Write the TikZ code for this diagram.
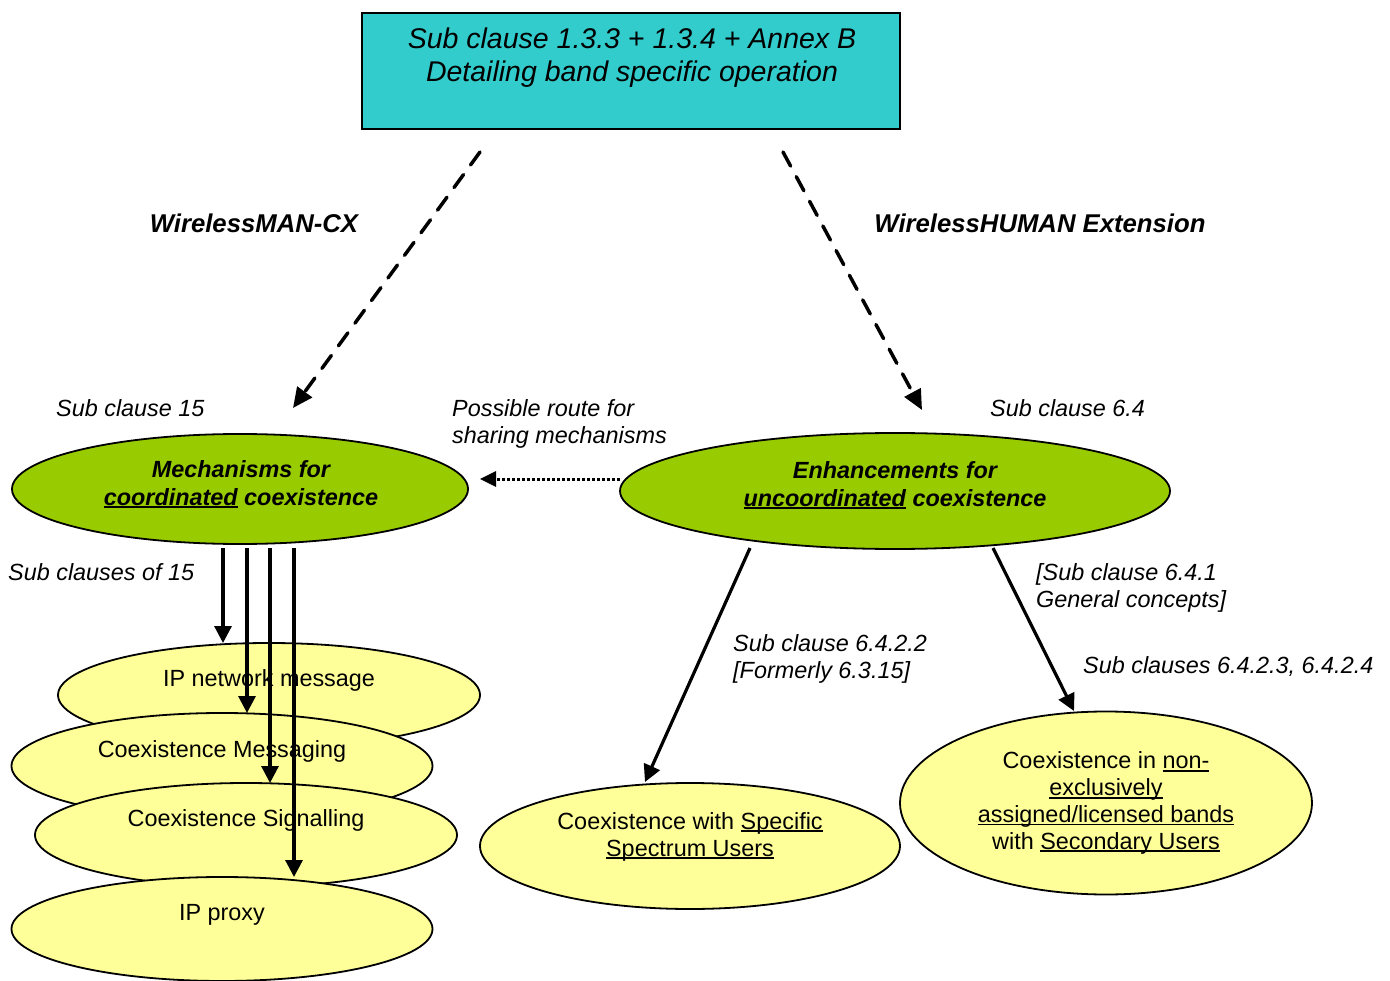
\documentclass[tikz,border=0pt]{standalone}
\usepackage{fontspec}
\setmainfont{Liberation Sans}
\usetikzlibrary{shapes.geometric,arrows.meta}
\definecolor{boxcyan}{HTML}{33CCCC}
\definecolor{leaf}{HTML}{99CC00}
\definecolor{pale}{HTML}{FFFF99}
\newcommand\myul[1]{\setbox0\hbox{#1}\rlap{\rule[-0.13em]{\wd0}{0.075em}}\box0\relax}
\newcommand\fmain{\fontsize{23.4}{27}\selectfont}
\newcommand\ftop{\fontsize{28.5}{33}\selectfont}
\newcommand\fbig{\fontsize{25.7}{30}\selectfont}
\tikzset{
  lbl/.style={font=\fmain\itshape, align=left, inner sep=0, anchor=base west},
  bigl/.style={font=\fbig\bfseries\itshape, inner sep=0, anchor=base},
  etext/.style={font=\fmain, align=center, inner sep=0, anchor=base},
  gtext/.style={font=\fontsize{23.4}{28}\selectfont\bfseries\itshape, align=center, inner sep=0, anchor=base},
  topbox/.style={draw, line width=1.8pt, fill=boxcyan, minimum width=538pt, minimum height=116pt, inner sep=0},
  green/.style={ellipse, draw, line width=1.8pt, fill=leaf, inner sep=0},
  yel/.style={ellipse, draw, line width=1.8pt, fill=pale, inner sep=0},
  solidarr/.style={line width=3.2pt, -{Triangle[length=17pt,width=17pt]}},
  dasharr/.style={line width=3.5pt, line cap=round, dash pattern=on 16pt off 12pt, -{Triangle[length=20pt,width=18pt]}},
  dotarr/.style={line width=3pt, dash pattern=on 3pt off 2pt, -{Triangle[length=16pt,width=15pt]}}
}
\begin{document}
\begin{tikzpicture}[x=1pt,y=-1pt]
\useasboundingbox (0,0) rectangle (1390,981);
% top box
\node[topbox] (top) at (631,71) {};
\node[font=\ftop\itshape, align=center, inner sep=0, anchor=base] (toptext) at (632,82)
  {Sub clause 1.3.3 + 1.3.4 + Annex B\\Detailing band specific operation};

% labels
\node[bigl] (wman) at (254,233) {WirelessMAN-CX};
\node[bigl] (whuman) at (1040,233) {WirelessHUMAN Extension};
\node[lbl] (sc15) at (56,417) {Sub clause 15};
\node[lbl] (sc64) at (990,417) {Sub clause 6.4};
\node[lbl] (route) at (452,443) {Possible route for\\sharing mechanisms};
\node[lbl] (sco15) at (8,580) {Sub clauses of 15};
\node[lbl] (sc6422) at (733,678) {Sub clause 6.4.2.2\\{[}Formerly 6.3.15{]}};
\node[lbl] (sc641) at (1036,607) {{[}Sub clause 6.4.1\\General concepts{]}};
\node[lbl] (sc6423) at (1083,673) {Sub clauses 6.4.2.3, 6.4.2.4};

% green ellipses
\node[green, minimum width=456pt, minimum height=110pt] (mech) at (240,489) {};
\node[gtext] (mecht) at (241,505) {Mechanisms for\\\myul{coordinated} coexistence};
\node[green, minimum width=550pt, minimum height=116pt] (enh) at (895,491) {};
\node[gtext] (enht) at (895,506) {Enhancements for\\\myul{uncoordinated} coexistence};

% left stack of yellow ellipses
\node[yel, minimum width=422pt, minimum height=104pt] (ipn) at (269,695) {};
\node[etext] (ipnt) at (269,686) {IP network message};
\node[yel, minimum width=421pt, minimum height=106pt] (cmsg) at (222,766) {};
\node[etext] (cmsgt) at (222,757) {Coexistence Messaging};
\node[yel, minimum width=422pt, minimum height=104pt] (csig) at (246,835) {};
\node[etext] (csigt) at (246,826) {Coexistence Signalling};
\node[yel, minimum width=421pt, minimum height=104pt] (ipp) at (222,929) {};
\node[etext] (ippt) at (222,920) {IP proxy};

% right yellow ellipses
\node[yel, minimum width=420pt, minimum height=126pt] (spec) at (690,846) {};
\node[etext] (spect) at (690,856) {Coexistence with \myul{Specific}\\\myul{Spectrum Users}};
\node[yel, minimum width=412pt, minimum height=183pt] (nonex) at (1106,803) {};
\node[etext, font=\fontsize{23.4}{26.7}\selectfont] (nonext) at (1106,849)
  {Coexistence in \myul{non-}\\\myul{exclusively}\\\myul{assigned/licensed bands}\\with \myul{Secondary Users}};

% connector end points
\coordinate (d1s) at (480,152); \coordinate (d1e) at (293,408);
\coordinate (d2s) at (783,152); \coordinate (d2e) at (922,410);
\coordinate (dots) at (620,479); \coordinate (dote) at (480,479);
\coordinate (v1s) at (223,548); \coordinate (v1e) at (223,643);
\coordinate (v2s) at (247,548); \coordinate (v2e) at (247,713);
\coordinate (v3s) at (270,548); \coordinate (v3e) at (270,783);
\coordinate (v4s) at (294,548); \coordinate (v4e) at (294,877);
\coordinate (r1s) at (750,548); \coordinate (r1e) at (645,782);
\coordinate (r2s) at (993,548); \coordinate (r2e) at (1074,711);

\draw[dasharr] (d1s) -- (d1e);
\draw[dasharr] (d2s) -- (d2e);
\draw[dotarr] (dots) -- (dote);
\draw[solidarr] (v1s) -- (v1e);
\draw[solidarr] (v2s) -- (v2e);
\draw[solidarr] (v3s) -- (v3e);
\draw[solidarr] (v4s) -- (v4e);
\draw[solidarr] (r1s) -- (r1e);
\draw[solidarr] (r2s) -- (r2e);
\end{tikzpicture}
\end{document}
